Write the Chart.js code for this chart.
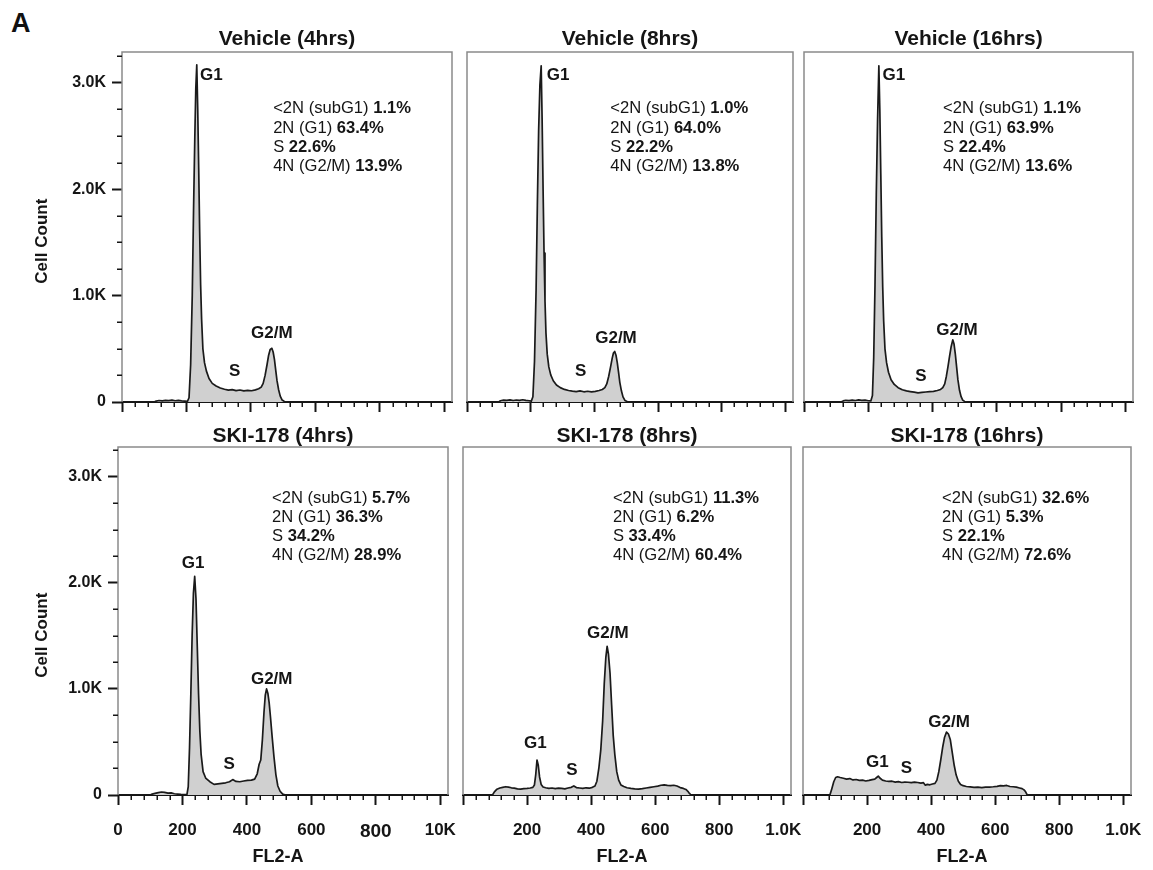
<!DOCTYPE html>
<html>
<head>
<meta charset="utf-8">
<script src="https://cdn.jsdelivr.net/npm/chart.js@4.4.1/dist/chart.umd.min.js"></script>
<style>
html,body{margin:0;padding:0;background:#fff;}
#wrap{position:relative;width:1153px;height:870px;overflow:hidden;background:#fff;}
#wrap canvas{position:absolute;}
#lblA{position:absolute;left:11px;top:10px;font:bold 27px 'Liberation Sans',Arial,sans-serif;line-height:26px;color:#111;}
</style>
</head>
<body>
<div id="wrap"><div id="lblA">A</div></div>
<script>
// ---------------- DATA ----------------
const titles = ['Vehicle (4hrs)', 'Vehicle (8hrs)', 'Vehicle (16hrs)', 'SKI-178 (4hrs)', 'SKI-178 (8hrs)', 'SKI-178 (16hrs)'];
const xTickValues = [0, 200, 400, 600, 800, 1000];
const xTickLabelsFirst = ['0', '200', '400', '600', '800', '10K'];
const xTickLabelsOther = ['', '200', '400', '600', '800', '1.0K'];
const yTickValues = [0, 1000, 2000, 3000];
const yTickLabels = ['0', '1.0K', '2.0K', '3.0K'];
const xAxisTitle = 'FL2-A';
const yAxisTitle = 'Cell Count';
const phaseNames = ['<2N (subG1)', '2N (G1)', 'S', '4N (G2/M)'];
const peakNames = ['G1', 'S', 'G2/M'];

// FL2-A channel (x) and cell count (y) for each histogram
const veh4X = [0,100,106,115,125,135,145,155,165,175,185,195,203,208,213,218,222,226,229,232,235,238,241,244,247,251,256,262,270,280,292,305,318,330,342,354,366,378,390,402,414,424,432,438,444,450,455,460,465,469,473,477,481,486,491,497,504,512,1024];
const veh4Y = [0,0,9,14,11,16,13,17,12,15,11,8,6,40,350,1000,1800,2500,2950,3170,2750,2200,1600,1100,780,500,370,290,220,175,150,132,120,112,116,107,113,104,110,106,114,124,140,175,250,350,440,495,505,470,400,300,200,115,55,18,5,0,0];

const veh8X = [0,100,105,115,125,135,145,155,165,175,185,195,202,207,212,217,221,225,229,233,236,239,242,245,248,252,257,263,271,281,293,306,319,331,343,355,367,379,391,403,415,425,433,439,445,451,456,460,464,468,472,476,480,485,490,496,503,511,1024];
const veh8Y = [0,0,12,18,15,20,14,19,16,21,15,12,8,50,380,1050,1850,2550,2980,3160,2650,2000,1400,950,650,450,330,255,200,160,135,118,108,102,98,104,96,101,95,100,108,118,135,170,240,330,410,460,475,440,370,280,185,105,48,15,4,0,0];

const veh16X = [0,115,122,130,140,150,160,170,180,190,200,208,213,217,221,225,229,233,236,239,242,245,248,252,257,263,271,281,293,306,319,331,343,355,367,379,391,403,415,425,432,438,443,448,453,458,463,467,471,475,479,484,489,494,500,508,1024];
const veh16Y = [0,0,10,16,13,18,14,20,15,18,12,10,60,420,1100,1950,2650,3160,2750,2150,1550,1080,760,500,370,280,210,165,135,115,104,98,92,86,90,94,98,100,108,118,135,170,240,330,430,520,584,545,450,330,210,110,50,18,5,0,0];

const ski4X = [0,100,106,115,125,135,145,155,165,175,185,195,205,214,218,222,226,230,234,238,242,246,250,254,258,264,272,285,298,310,322,334,346,356,366,378,390,402,414,424,432,438,443,448,453,457,461,465,469,473,478,484,490,496,503,511,520,1024];
const ski4Y = [0,0,8,15,22,28,24,18,20,12,9,6,4,5,80,450,950,1500,1900,2060,1850,1400,950,600,380,220,160,125,100,105,110,115,125,145,128,125,132,138,140,150,200,290,330,520,780,940,1000,960,870,740,560,360,190,85,35,8,0,0];

const ski8X = [0,92,98,106,115,124,133,142,151,160,170,180,190,200,210,218,223,227,231,235,239,244,250,258,268,278,288,298,308,318,328,338,346,354,364,374,384,394,404,412,418,424,430,436,441,446,450,454,459,464,469,474,480,486,493,502,512,524,536,548,560,572,584,596,608,618,628,638,648,658,668,678,688,696,702,707,712,1024];
const ski8Y = [0,0,30,55,66,72,78,74,68,65,58,55,60,62,66,72,95,190,330,280,170,100,75,68,62,66,60,64,62,58,66,72,85,70,66,62,68,64,72,85,130,250,420,700,1050,1300,1400,1330,1150,850,560,380,220,140,95,80,68,62,58,55,60,66,72,78,84,92,96,90,88,92,85,70,62,52,35,15,0,0];

const ski16X = [0,84,90,96,102,108,116,126,136,146,156,166,176,186,196,206,216,224,230,235,240,248,258,268,278,288,298,308,318,328,338,348,358,368,376,382,388,396,404,412,418,424,430,436,442,448,454,460,466,472,478,485,492,500,510,522,534,546,558,570,582,594,606,616,626,636,646,656,666,676,684,690,695,700,1024];
const ski16Y = [0,0,60,125,165,172,165,158,150,155,142,146,138,140,132,138,145,150,165,178,160,140,132,128,130,122,126,118,122,120,116,122,118,112,116,92,100,96,104,110,140,220,330,450,545,593,575,520,400,280,190,130,100,88,80,76,72,74,70,74,75,78,82,88,86,90,80,78,74,66,60,48,30,0,0];

// cell-cycle percentages: subG1, G1, S, G2/M
const veh4Pct = ['1.1%', '63.4%', '22.6%', '13.9%'];
const veh8Pct = ['1.0%', '64.0%', '22.2%', '13.8%'];
const veh16Pct = ['1.1%', '63.9%', '22.4%', '13.6%'];
const ski4Pct = ['5.7%', '36.3%', '34.2%', '28.9%'];
const ski8Pct = ['11.3%', '6.2%', '33.4%', '60.4%'];
const ski16Pct = ['32.6%', '5.3%', '22.1%', '72.6%'];

// ---------------- LAYOUT / STYLE ----------------
const FONT = "'Liberation Sans', Arial, Helvetica, sans-serif";
const INK = '#151515';
const panels = [
  {xs: veh4X, ys: veh4Y, pct: veh4Pct, box: {L:122, R:452, T:52, B:402}, yMax: 3290, first: true, bottom: false,
   peaks: [[277, 3075], [350, 284], [465, 646]], statAt: [469, 2755]},
  {xs: veh8X, ys: veh8Y, pct: veh8Pct, box: {L:467, R:793, T:52, B:402}, yMax: 3290, first: false, bottom: false,
   peaks: [[286, 3073], [357, 284], [468, 600]], statAt: [450, 2755]},
  {xs: veh16X, ys: veh16Y, pct: veh16Pct, box: {L:804, R:1133, T:52, B:402}, yMax: 3290, first: false, bottom: false,
   peaks: [[280, 3070], [364, 237], [476, 675]], statAt: [433, 2755]},
  {xs: ski4X, ys: ski4Y, pct: ski4Pct, box: {L:118, R:448, T:447, B:795}, yMax: 3280, first: true, bottom: true,
   peaks: [[233, 2180], [345, 292], [477, 1094]], statAt: [478, 2800]},
  {xs: ski8X, ys: ski8Y, pct: ski8Pct, box: {L:463, R:791, T:447, B:795}, yMax: 3280, first: false, bottom: true,
   peaks: [[226, 490], [340, 236], [452, 1528]], statAt: [468, 2800]},
  {xs: ski16X, ys: ski16Y, pct: ski16Pct, box: {L:803, R:1131, T:447, B:795}, yMax: 3280, first: false, bottom: true,
   peaks: [[232, 311], [323, 255], [456, 689]], statAt: [434, 2800]}
];

const xMinor = [];
for (let v = 40; v < 1024; v += 40) if (v % 200 !== 0) xMinor.push(v);
const yMinor = [];
for (let v = 250; v < 3300; v += 250) if (v % 1000 !== 0) yMinor.push(v);

const decor = {
  id: 'decor',
  afterDraw(chart, args, o) {
    const ctx = chart.ctx, ca = chart.chartArea;
    const xs = chart.scales.x, ys = chart.scales.y;
    ctx.save();
    // frame (left, top, right)
    ctx.strokeStyle = '#8a8a8a';
    ctx.lineWidth = 1.5;
    ctx.beginPath();
    ctx.moveTo(ca.left, ca.bottom);
    ctx.lineTo(ca.left, ca.top);
    ctx.lineTo(ca.right, ca.top);
    ctx.lineTo(ca.right, ca.bottom);
    ctx.stroke();
    // minor ticks
    ctx.strokeStyle = INK;
    ctx.lineWidth = 1.5;
    ctx.beginPath();
    xMinor.forEach(v => {
      const px = Math.round(xs.getPixelForValue(v)) + 0.25;
      ctx.moveTo(px, ca.bottom);
      ctx.lineTo(px, ca.bottom + 5);
    });
    if (o.yMinor) {
      yMinor.forEach(v => {
        const py = Math.round(ys.getPixelForValue(v)) + 0.25;
        ctx.moveTo(ca.left, py);
        ctx.lineTo(ca.left - 5, py);
      });
    }
    ctx.stroke();
    // peak labels
    ctx.fillStyle = INK;
    ctx.textBaseline = 'middle';
    ctx.textAlign = 'center';
    ctx.font = 'bold 17px ' + FONT;
    o.peaks.forEach((p, i) => {
      ctx.fillText(peakNames[i], xs.getPixelForValue(p[0]), ys.getPixelForValue(p[1]));
    });
    // statistics block
    ctx.textAlign = 'left';
    const x0 = xs.getPixelForValue(o.statAt[0]);
    const y0 = ys.getPixelForValue(o.statAt[1]);
    phaseNames.forEach((name, i) => {
      const y = y0 + i * 19.3;
      ctx.font = '16.6px ' + FONT;
      const t = name + ' ';
      ctx.fillText(t, x0, y);
      const w = ctx.measureText(t).width;
      ctx.font = 'bold 16.6px ' + FONT;
      ctx.fillText(o.pct[i], x0 + w, y);
    });
    ctx.restore();
  }
};

const wrap = document.getElementById('wrap');
panels.forEach((p, k) => {
  const b = p.box;
  const padT = 42, padR = 30;
  const padL = p.first ? b.L : 20;
  const padB = p.bottom ? 76 : 16;
  const W = (b.R - b.L) + padL + padR;
  const H = (b.B - b.T) + padT + padB;
  const titleLH = p.bottom ? 1.0 : 1.2;          // bottom-row titles sit closer to the frame
  const titleH = 21 * titleLH;
  const cv = document.createElement('canvas');
  cv.width = W; cv.height = H;
  cv.style.left = (b.L - padL) + 'px';
  cv.style.top = (b.T - padT) + 'px';
  cv.style.width = W + 'px'; cv.style.height = H + 'px';
  wrap.appendChild(cv);
  const xLabels = p.first ? xTickLabelsFirst : xTickLabelsOther;
  new Chart(cv, {
    type: 'line',
    data: {
      datasets: [{
        label: titles[k],
        data: p.xs.map((x, i) => ({x: x, y: p.ys[i]})),
        borderColor: '#1a1a1a',
        borderWidth: 1.7,
        borderJoinStyle: 'round',
        backgroundColor: '#d0d0d0',
        fill: 'origin',
        pointRadius: 0,
        tension: 0
      }]
    },
    options: {
      responsive: false,
      devicePixelRatio: 1,
      animation: false,
      layout: {padding: {top: padT - titleH, left: p.first ? 0 : padL, right: padR, bottom: 0}},
      plugins: {
        legend: {display: false},
        tooltip: {enabled: false},
        title: {display: true, text: titles[k], color: INK, fullSize: false,
                font: {family: FONT, weight: 'bold', size: 21, lineHeight: titleLH}, padding: {top: 0, bottom: 0}},
        decor: {peaks: p.peaks, statAt: p.statAt, pct: p.pct, yMinor: p.first}
      },
      scales: {
        x: {
          type: 'linear', min: 0, max: 1024, z: 1,
          afterBuildTicks: s => { s.ticks = xTickValues.map(v => ({value: v})); },
          afterFit: s => { s.height = padB; },
          grid: {drawOnChartArea: false, drawTicks: true, tickLength: 10, tickWidth: 2, tickColor: INK},
          border: {display: true, color: INK, width: 2},
          ticks: {
            display: p.bottom, autoSkip: false, maxRotation: 0, minRotation: 0, padding: 15, color: INK,
            font: c => ({family: FONT, weight: 'bold', size: (p.first && c.index === 4) ? 19 : 17}),
            callback: (v, i) => xLabels[i]
          },
          title: {display: p.bottom, text: xAxisTitle + '  ', color: INK,
                  font: {family: FONT, weight: 'bold', size: 18}, padding: {top: 0, bottom: 3}}
        },
        y: {
          type: 'linear', min: 0, max: p.yMax, display: p.first,
          afterBuildTicks: s => { s.ticks = yTickValues.map(v => ({value: v})); },
          afterFit: s => { if (p.first) s.width = b.L; },
          grid: {drawOnChartArea: false, drawTicks: true, tickLength: 10, tickWidth: 2, tickColor: INK},
          border: {display: false},
          ticks: {padding: 6, color: INK, font: {family: FONT, weight: 'bold', size: 16},
                  callback: (v, i) => yTickLabels[i]},
          title: {display: true, text: yAxisTitle + '      ', color: INK,
                  font: {family: FONT, weight: 'bold', size: 17}, padding: {top: 32, bottom: 0}}
        }
      }
    },
    plugins: [decor]
  });
});
</script>
</body>
</html>
